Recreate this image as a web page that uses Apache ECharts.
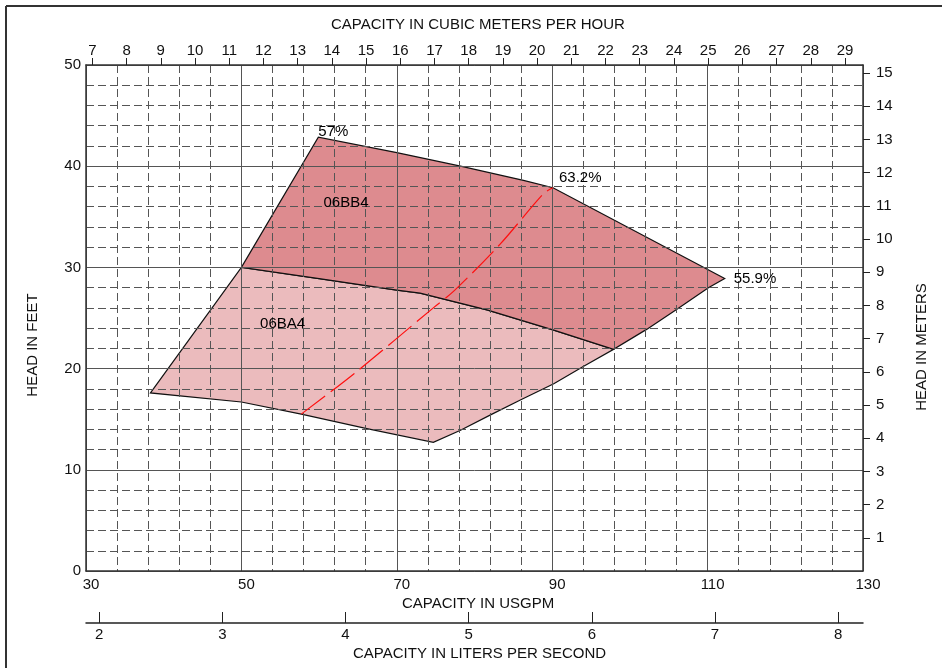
<!DOCTYPE html>
<html>
<head>
<meta charset="utf-8">
<script src="https://cdn.jsdelivr.net/npm/echarts@6/dist/echarts.min.js"></script>
<style>
html,body{margin:0;padding:0;background:#fff;}
#chart{width:942px;height:668px;}
</style>
</head>
<body>
<div id="chart"></div>
<script>
// ---- Data (USGPM vs head in feet) ----
// Boundary between 06BA4 (below) and 06BB4 (above)
const divX = [50, 60, 70, 73, 78, 81.6, 90.2, 97.9];
const divY = [30, 28.9, 27.75, 27.45, 26.5, 25.8, 23.8, 21.9];
// Lower-right boundary (from bottom vertex of 06BA4 up to right vertex of 06BB4)
const rightX = [74.7, 78.2, 82.0, 85.9, 90.2, 94.0, 97.9, 102.2, 106.1, 110.1, 112.2];
const rightY = [12.72, 13.9, 15.4, 16.9, 18.5, 20.2, 21.9, 23.9, 25.9, 28.0, 28.9];
// Bottom boundary of 06BA4
const bottomX = [38.3, 42.1, 50, 57.7, 66, 74.7];
const bottomY = [17.6, 17.3, 16.7, 15.5, 14.1, 12.72];
// Top boundary of 06BB4
const topX = [50, 59.9, 70, 78.2, 86.3, 90.1, 112.2];
const topY = [30, 42.86, 41.35, 40.0, 38.6, 37.87, 28.9];
// Best-efficiency (red dashed) line
const redX = [57.7, 64.5, 74.7, 77.4, 83.3, 88.9, 90.1];
const redY = [15.5, 19.5, 26.0, 27.7, 32.3, 37.3, 37.87];
// Annotations
const annText = ['57%', '63.2%', '55.9%', '06BB4', '06BA4'];
const annX = [59.9, 90.1, 112.2, 60.56, 52.4];
const annY = [42.86, 37.87, 28.9, 36.42, 24.39];
// Secondary axis ticks
const m3hTicks = [7,8,9,10,11,12,13,14,15,16,17,18,19,20,21,22,23,24,25,26,27,28,29];
const meterTicks = [1,2,3,4,5,6,7,8,9,10,11,12,13,14,15];
const lpsTicks = [2,3,4,5,6,7,8];

const GPM_MIN = 30, GPM_MAX = 130, FT_MIN = 0, FT_MAX = 50;
const GPM_TO_M3H = 0.2271247, GPM_TO_LPS = 0.0630902, FT_TO_M = 0.3048;

// Build polygons
function pts(xs, ys) { return xs.map((x, i) => [x, ys[i]]); }
const baPoly = [[bottomX[0], bottomY[0]]]
  .concat(pts(divX, divY))
  .concat(pts(rightX.slice(0, 7), rightY.slice(0, 7)).reverse().slice(1))
  .concat(pts(bottomX, bottomY).reverse().slice(1, -1));
const bbPoly = pts(topX, topY)
  .concat(pts(rightX.slice(6), rightY.slice(6)).reverse().slice(1))
  .concat(pts(divX, divY).reverse().slice(1, -1));

const FONT = '"Liberation Sans", Arial, Helvetica, sans-serif';
const TXT = '#111';
const GRID_C = '#555';

function polySeries(poly, fill) {
  return {
    type: 'custom', coordinateSystem: 'cartesian2d', xAxisIndex: 0, yAxisIndex: 0,
    z: 2, silent: true,
    data: poly,
    encode: { x: 0, y: 1 },
    renderItem: function (params, api) {
      if (params.dataIndex !== 0) return { type: 'group', children: [] };
      return {
        type: 'polygon',
        shape: { points: poly.map(p => api.coord(p)) },
        style: { fill: fill, stroke: '#111', lineWidth: 1.2 }
      };
    }
  };
}

const chart = echarts.init(document.getElementById('chart'), null, { renderer: 'canvas' });
chart.setOption({
  animation: false,
  backgroundColor: '#fff',
  textStyle: { fontFamily: FONT },
  grid: { left: 86, top: 65, width: 777, height: 506, containLabel: false },
  xAxis: [
    {
      type: 'value', position: 'bottom', min: GPM_MIN, max: GPM_MAX, interval: 20, z: 3,
      axisLine: { show: true, onZero: false, lineStyle: { color: '#333', width: 1.5 } },
      axisTick: { show: false },
      axisLabel: { color: TXT, fontSize: 15, fontFamily: FONT, margin: 6, padding: [0, 0, 0, 10] },
      splitLine: { show: true, lineStyle: { color: GRID_C, width: 1, type: 'solid' } },
      minorTick: { show: false, splitNumber: 5 },
      minorSplitLine: { show: true, lineStyle: { color: GRID_C, width: 1, type: [8, 4] } }
    },
    {
      type: 'value', position: 'top', min: GPM_MIN * GPM_TO_M3H, max: GPM_MAX * GPM_TO_M3H, z: 3,
      axisLine: { show: true, onZero: false, lineStyle: { color: '#333', width: 1.5 } },
      axisTick: { show: true, inside: false, length: 7, customValues: m3hTicks, lineStyle: { color: '#222' } },
      axisLabel: { color: TXT, fontSize: 15, fontFamily: FONT, margin: 7, customValues: m3hTicks },
      splitLine: { show: false }
    },
    {
      type: 'value', position: 'bottom', offset: 52, min: GPM_MIN * GPM_TO_LPS, max: GPM_MAX * GPM_TO_LPS, z: 3,
      axisLine: { show: true, onZero: false, lineStyle: { color: '#222', width: 1.5 } },
      axisTick: { show: true, inside: true, length: 11, customValues: lpsTicks, lineStyle: { color: '#222' } },
      axisLabel: { color: TXT, fontSize: 15, fontFamily: FONT, margin: 4, customValues: lpsTicks },
      splitLine: { show: false }
    }
  ],
  yAxis: [
    {
      type: 'value', position: 'left', min: FT_MIN, max: FT_MAX, interval: 10, z: 3,
      axisLine: { show: true, onZero: false, lineStyle: { color: '#333', width: 1.5 } },
      axisTick: { show: false },
      axisLabel: { color: TXT, fontSize: 15, fontFamily: FONT, margin: 5 },
      splitLine: { show: true, lineStyle: { color: GRID_C, width: 1, type: 'solid' } },
      minorTick: { show: false, splitNumber: 5 },
      minorSplitLine: { show: true, lineStyle: { color: GRID_C, width: 1, type: [8, 4] } }
    },
    {
      type: 'value', position: 'right', min: FT_MIN * FT_TO_M, max: FT_MAX * FT_TO_M, z: 3,
      axisLine: { show: true, onZero: false, lineStyle: { color: '#333', width: 1.5 } },
      axisTick: { show: true, inside: false, length: 7, customValues: meterTicks, lineStyle: { color: '#222' } },
      axisLabel: { color: TXT, fontSize: 15, fontFamily: FONT, margin: 13, customValues: meterTicks },
      splitLine: { show: false }
    }
  ],
  series: [
    polySeries(baPoly, '#ebbbbd'),
    polySeries(bbPoly, '#dd8b8f'),
    {
      type: 'line', xAxisIndex: 0, yAxisIndex: 0, z: 4, silent: true,
      data: pts(redX, redY), symbol: 'none', smooth: 0.3,
      lineStyle: { color: '#ff1010', width: 1.2, type: [30, 7] }
    },
    {
      type: 'scatter', xAxisIndex: 0, yAxisIndex: 0, z: 5, silent: true, symbolSize: 0,
      itemStyle: { opacity: 1 },
      data: annText.map((t, i) => {
        const offs = [[0, -5], [6, -10], [9, 0], [0, 0], [0, 0]];
        return {
          value: [annX[i], annY[i]],
          label: {
            show: true, formatter: t, position: 'inside', align: 'left', verticalAlign: 'middle',
            offset: offs[i], color: '#000', fontSize: 15, fontFamily: FONT
          }
        };
      })
    }
  ],
  graphic: [
    { type: 'line', shape: { x1: 6, y1: 6, x2: 942, y2: 6 }, style: { stroke: '#333', lineWidth: 2 }, silent: true },
    { type: 'line', shape: { x1: 6, y1: 6, x2: 6, y2: 668 }, style: { stroke: '#333', lineWidth: 2 }, silent: true },
    { type: 'text', left: 482 - 151, top: 17, style: { text: 'CAPACITY IN CUBIC METERS PER HOUR', fill: TXT, font: '15px ' + FONT } },
    { type: 'text', left: 402, top: 596, style: { text: 'CAPACITY IN USGPM', fill: TXT, font: '15px ' + FONT } },
    { type: 'text', left: 353, top: 646, style: { text: 'CAPACITY IN LITERS PER SECOND', fill: TXT, font: '15px ' + FONT } },
    { type: 'text', x: 33, y: 345, rotation: Math.PI / 2, style: { text: 'HEAD IN FEET', fill: TXT, font: '15px ' + FONT, align: 'center', verticalAlign: 'middle' } },
    { type: 'text', x: 922, y: 347, rotation: Math.PI / 2, style: { text: 'HEAD IN METERS', fill: TXT, font: '15px ' + FONT, align: 'center', verticalAlign: 'middle' } }
  ]
});
</script>
</body>
</html>
